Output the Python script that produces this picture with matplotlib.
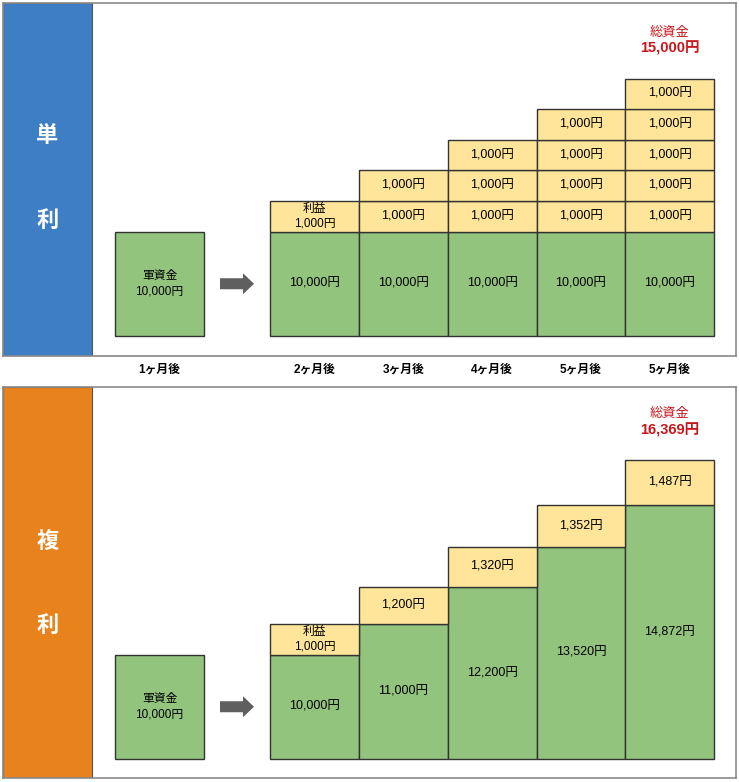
import matplotlib.pyplot as plt
from matplotlib.patches import FancyArrow

plt.rcParams['font.family'] = ['Liberation Sans', 'Noto Sans CJK JP']

# data
months = ['1ヶ月後', '2ヶ月後', '3ヶ月後', '4ヶ月後', '5ヶ月後', '5ヶ月後']
start_capital = 10000

simple_principal = [10000, 10000, 10000, 10000, 10000]
simple_profit = 1000
simple_cells = [1, 2, 3, 4, 5]      # profit blocks stacked in each month
simple_total = 15000

compound_principal = [10000, 11000, 12200, 13520, 14872]
compound_profit = [1000, 1200, 1320, 1352, 1487]
compound_total = 16369

# layout (pixels of the 739x782 canvas)
W, H = 739, 782
col_x = [159.5] + [314.5 + 88.8 * i for i in range(5)]
box_w = 88.8
PX_PER_YEN = 0.0306          # the diagram is not to scale, base sits below zero
FLOOR = 6585

GREEN = '#93c47d'
YELLOW = '#ffe599'
EDGE = '#333333'
RED = '#c8161d'


def yen(v):
    return f'{v:,}円'


def panel(fig, top_px, bot_px, base_px, band_color, band_chars, char_y):
    ax = fig.add_axes([3 / W, 1 - bot_px / H, 733 / W, (bot_px - top_px) / H])
    ax.set_xlim(3, 736)
    ax.set_ylim(FLOOR - (bot_px - base_px) / PX_PER_YEN,
                FLOOR + (base_px - top_px) / PX_PER_YEN)
    ax.set_xticks([])
    ax.set_yticks([])
    for s in ax.spines.values():
        s.set_color('#8a8a8a')
        s.set_linewidth(1.2)
    ax.axvspan(3, 92, facecolor=band_color, edgecolor='#555555', linewidth=0.8, zorder=0)
    for ch, y in zip(band_chars, char_y):
        ax.text(47.5, y, ch, transform=ax.get_xaxis_transform(), color='white',
                fontsize=16, fontweight='bold', ha='center', va='center',
                family=['Noto Sans CJK JP'])

    # starting capital box + arrow
    ax.bar(col_x[0], start_capital - FLOOR, bottom=FLOOR, width=box_w,
           color=GREEN, edgecolor=EDGE, linewidth=1)
    mid = (start_capital + FLOOR) / 2
    ax.text(col_x[0], mid, '軍資金\n' + yen(start_capital), ha='center', va='center',
            fontsize=8.5, linespacing=1.35)
    ax.add_patch(FancyArrow(220, mid, 34, 0, width=11 / PX_PER_YEN,
                            head_width=21 / PX_PER_YEN, head_length=11,
                            length_includes_head=True, color='#5f5f5f', linewidth=0))
    return ax


def total_label(ax, x, top, total):
    ax.annotate('総資金', xy=(x, top), xytext=(0, 46), textcoords='offset pixels',
                ha='center', va='center', color=RED, fontsize=9.5)
    ax.annotate(yen(total), xy=(x, top), xytext=(0, 30), textcoords='offset pixels',
                ha='center', va='center', color=RED, fontsize=10.5, fontweight='bold')


fig = plt.figure(figsize=(W / 100, H / 100), dpi=100)

# 単利
ax1 = panel(fig, 3, 356, 336, '#3d7ec4', ['単', '利'], [0.626, 0.385])
ax1.bar(col_x[1:], [p - FLOOR for p in simple_principal], bottom=FLOOR, width=box_w,
        color=GREEN, edgecolor=EDGE, linewidth=1)
for i, n in enumerate(simple_cells):
    x = col_x[i + 1]
    ax1.text(x, (simple_principal[i] + FLOOR) / 2, yen(simple_principal[i]),
             ha='center', va='center', fontsize=9)
    for j in range(n):
        b = simple_principal[i] + j * simple_profit
        ax1.bar(x, simple_profit, bottom=b, width=box_w, color=YELLOW,
                edgecolor=EDGE, linewidth=1)
        label = yen(simple_profit)
        if i == 0 and j == 0:
            label = '利益\n' + label
        ax1.text(x, b + simple_profit / 2, label, ha='center', va='center',
                 fontsize=9 if '\n' not in label else 8.5, linespacing=1.2)
total_label(ax1, col_x[-1], simple_principal[-1] + simple_cells[-1] * simple_profit,
            simple_total)

# 複利
ax2 = panel(fig, 387, 778, 759, '#e8821c', ['複', '利'], [0.604, 0.391])
ax2.bar(col_x[1:], [p - FLOOR for p in compound_principal], bottom=FLOOR, width=box_w,
        color=GREEN, edgecolor=EDGE, linewidth=1)
ax2.bar(col_x[1:], compound_profit, bottom=compound_principal, width=box_w,
        color=YELLOW, edgecolor=EDGE, linewidth=1)
for i, (p, g) in enumerate(zip(compound_principal, compound_profit)):
    x = col_x[i + 1]
    ax2.text(x, (p + FLOOR) / 2, yen(p), ha='center', va='center', fontsize=9)
    label = yen(g) if i else '利益\n' + yen(g)
    ax2.text(x, p + g / 2, label, ha='center', va='center',
             fontsize=9 if i else 8.5, linespacing=1.2)
total_label(ax2, col_x[-1], compound_principal[-1] + compound_profit[-1], compound_total)

# month labels between the panels
for x, m in zip(col_x, months):
    fig.text(x / W, 1 - 370 / H, m, ha='center', va='center', fontsize=8.5,
             fontweight='bold')

fig.savefig('out.png', dpi=100)
